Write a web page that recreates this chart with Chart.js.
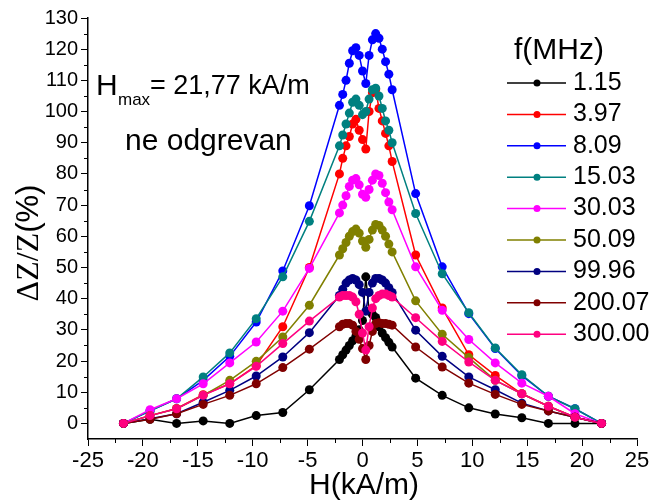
<!DOCTYPE html>
<html lang="sr">
<head>
<meta charset="UTF-8">
<title>GMI - ΔZ/Z(H), ne odgrevan</title>
<script src="https://cdn.jsdelivr.net/npm/chart.js"></script>
<style>
  html, body { margin: 0; padding: 0; background: #fff; }
  #wrap { width: 672px; height: 501px; }
</style>
</head>
<body>
<div id="wrap"><canvas id="gmi" width="672" height="501"></canvas></div>
<script>
// polje H (kA/m): grubi korak na krajevima, gusto oko nule
const H = [-21.77, -19.35, -16.93, -14.51, -12.09, -9.68, -7.26, -4.84,
  -2.1, -1.8, -1.5, -1.2, -0.9, -0.6, -0.3, 0, 0.3, 0.6, 0.9, 1.2, 1.5, 1.8, 2.1, 2.4, 2.7,
  4.84, 7.26, 9.68, 12.09, 14.51, 16.93, 19.35, 21.77];

// ΔZ/Z (%) za svaku frekvenciju
const f1_15 = [0, 1.3, 0, 0.8, 0, 2.5, 3.5, 10.8,
  20.5, 22, 23.5, 25, 26.5, 28, 30, 33, 47, 36, 35, 34, 31, 29, 27.5, 26, 24.5,
  14.5, 9, 5, 3, 1.8, 0, 0, 0];
const f3_97 = [0, 2.5, 4.8, 9.2, 12.7, 18.5, 31, 50,
  80, 85, 89, 92, 96, 97.5, 94, 91, 88, 100, 106, 107, 101, 97, 93, 89, 84,
  54, 37, 22, 15.4, 9.5, 5.5, 2, 0];
const f8_09 = [0, 4, 7.9, 13.8, 21.5, 32.5, 48.9, 69.8,
  102, 105.5, 110, 115.5, 119.5, 120.5, 118, 113, 109, 118, 123, 125, 123.5, 120, 116, 112, 107,
  73.7, 50.2, 35.2, 24, 15.3, 8.7, 4.7, 0];
const f15_03 = [0, 4, 7.9, 14.9, 22.6, 33.6, 47, 64.8,
  89, 92.5, 96, 99.5, 103, 104, 102, 99, 100, 104, 107, 107.5, 105, 101, 97, 94, 90,
  67.3, 48, 35.5, 24.2, 15.6, 8.7, 4.7, 0];
const f30_03 = [0, 4.4, 7.9, 12.7, 19.4, 26.1, 36, 49.7,
  67.5, 70, 73, 76, 78, 78.5, 76.5, 73.5, 72.5, 75, 78, 80, 79.5, 77, 74, 71, 68.5,
  50.2, 36.3, 26.9, 19.4, 12.9, 8.7, 3.1, 0];
const f50_09 = [0, 2.5, 4.7, 9, 13.8, 19.9, 27.7, 37.9,
  54, 56, 58, 60, 61.5, 62.3, 61, 58.5, 56.5, 59, 62, 63.8, 63.5, 62, 60, 57.5, 55,
  39.3, 28.6, 21.1, 13.8, 9.5, 5.5, 2, 0];
const f99_96 = [0, 1.5, 3.1, 6.8, 10.6, 15.2, 21.3, 29.1,
  41, 43, 45, 46, 46.5, 46, 44.5, 42, 36, 42, 45, 46.5, 46.5, 46, 45, 43.5, 42,
  29.9, 21.5, 14.9, 10.8, 6.5, 4, 2, 0];
const f200_07 = [0, 1.3, 3.1, 6.1, 9, 12.7, 17.9, 23.8,
  31, 31.8, 32, 32, 31.5, 29.5, 27, 24, 20.5, 25, 29.5, 32, 32.3, 32, 32, 31.8, 31.5,
  24.5, 18.1, 12.9, 9.3, 6.1, 4, 2, 0];
const f300_00 = [0, 2.5, 4.7, 9, 12.7, 18.3, 25.6, 32.8,
  40.5, 41, 41, 41, 40.5, 39, 35, 29, 23.5, 31, 37, 40, 41, 41.5, 41.5, 41, 40.5,
  33.9, 26.3, 19.7, 13.8, 9.5, 5.5, 2, 0];

const freqs = ['1.15', '3.97', '8.09', '15.03', '30.03', '50.09', '99.96', '200.07', '300.00'];
const series = [f1_15, f3_97, f8_09, f15_03, f30_03, f50_09, f99_96, f200_07, f300_00];
const yTicks = [0, 10, 20, 30, 40, 50, 60, 70, 80, 90, 100, 110, 120, 130];

const colors = ['#000000', '#ff0000', '#0000ff', '#008080', '#ff00ff',
  '#808000', '#000080', '#800000', '#ff0080'];

const SANS = '"Liberation Sans", Arial, sans-serif';
const SERIF = '"Liberation Serif", "Times New Roman", serif';

const datasets = series.map((vals, i) => ({
  label: freqs[i],
  data: vals.map((v, k) => ({ x: H[k], y: v })),
  borderColor: colors[i],
  backgroundColor: colors[i],
  borderWidth: 1.5,
  pointRadius: 4.5,
  pointBorderWidth: 0,
  // kasnije serije crtaju se preko ranijih
  order: -i,
  tension: 0
}));

// legenda, natpisi, osne oznake i sitne podeone crtice
const extras = {
  id: 'extras',
  afterDraw(chart) {
    const { ctx, scales: { x, y } } = chart;
    ctx.save();
    ctx.strokeStyle = '#000';
    ctx.lineWidth = 1;
    ctx.beginPath();
    for (let v = -22.5; v <= 22.5; v += 5) {
      const px = Math.round(x.getPixelForValue(v)) + 0.5;
      ctx.moveTo(px, y.bottom);
      ctx.lineTo(px, y.bottom + 4);
    }
    for (let v = 5; v <= 125; v += 10) {
      const py = Math.round(y.getPixelForValue(v)) + 0.5;
      ctx.moveTo(x.left - 4, py);
      ctx.lineTo(x.left, py);
    }
    ctx.stroke();

    ctx.fillStyle = '#000';
    ctx.textBaseline = 'middle';

    // legenda
    ctx.font = '30px ' + SANS;
    ctx.textAlign = 'center';
    ctx.fillText('f(MHz)', 559, 51);
    ctx.font = '25px ' + SANS;
    ctx.textAlign = 'left';
    freqs.forEach((f, i) => {
      const ly = 83 + i * 31.4;
      ctx.strokeStyle = colors[i];
      ctx.lineWidth = 1.5;
      ctx.beginPath();
      ctx.moveTo(507, ly);
      ctx.lineTo(566, ly);
      ctx.stroke();
      ctx.fillStyle = colors[i];
      ctx.beginPath();
      ctx.arc(537, ly, 3.5, 0, Math.PI * 2);
      ctx.fill();
      ctx.fillStyle = '#000';
      ctx.fillText(f, 573, ly);
    });

    // natpisi u polju grafika
    ctx.textBaseline = 'alphabetic';
    ctx.font = '30px ' + SANS;
    ctx.fillText('H', 96, 95);
    ctx.font = '17px ' + SANS;
    ctx.fillText('max', 118, 105);
    ctx.font = '27px ' + SANS;
    ctx.fillText('= 21,77 kA/m', 150, 94);
    ctx.font = '30px ' + SANS;
    ctx.fillText('ne odgrevan', 125, 150);

    // naziv x ose
    ctx.font = '30px ' + SANS;
    ctx.textAlign = 'center';
    ctx.fillText('H(kA/m)', 364, 494);

    // naziv y ose
    ctx.translate(38, 243);
    ctx.rotate(-Math.PI / 2);
    ctx.font = '32px ' + SERIF;
    const a = 'ΔZ/Z';
    const wa = ctx.measureText(a).width;
    ctx.font = '31px ' + SANS;
    const b = '(%)';
    const wb = ctx.measureText(b).width;
    ctx.textAlign = 'left';
    ctx.font = '32px ' + SERIF;
    ctx.fillText(a, -(wa + wb) / 2, 0);
    ctx.font = '31px ' + SANS;
    ctx.fillText(b, -(wa + wb) / 2 + wa, 0);
    ctx.restore();
  }
};

const ctx = document.getElementById('gmi').getContext('2d');
const chart = new Chart(ctx, {
  type: 'line',
  data: { datasets },
  options: {
    responsive: false,
    animation: false,
    layout: { padding: { left: 0, right: 35, top: 18, bottom: 0 } },
    plugins: { legend: { display: false }, tooltip: { enabled: false } },
    scales: {
      x: {
        type: 'linear',
        min: -25,
        max: 25,
        grid: { display: true, drawOnChartArea: false, drawTicks: true, tickLength: 7, color: '#000' },
        border: { display: true, color: '#000', width: 1.5 },
        ticks: { stepSize: 5, color: '#000', padding: 2, maxRotation: 0, font: { family: SANS, size: 22 } },
        afterFit(s) { s.height = 62; }
      },
      y: {
        type: 'linear',
        min: -5,
        max: 130,
        grid: { display: true, drawOnChartArea: false, drawTicks: true, tickLength: 7, color: '#000' },
        border: { display: true, color: '#000', width: 1.5 },
        ticks: { color: '#000', padding: 3, font: { family: SANS, size: 20 } },
        afterBuildTicks(s) { s.ticks = yTicks.map(v => ({ value: v })); },
        afterFit(s) { s.width = 88; }
      }
    }
  },
  plugins: [extras]
});
</script>
</body>
</html>
